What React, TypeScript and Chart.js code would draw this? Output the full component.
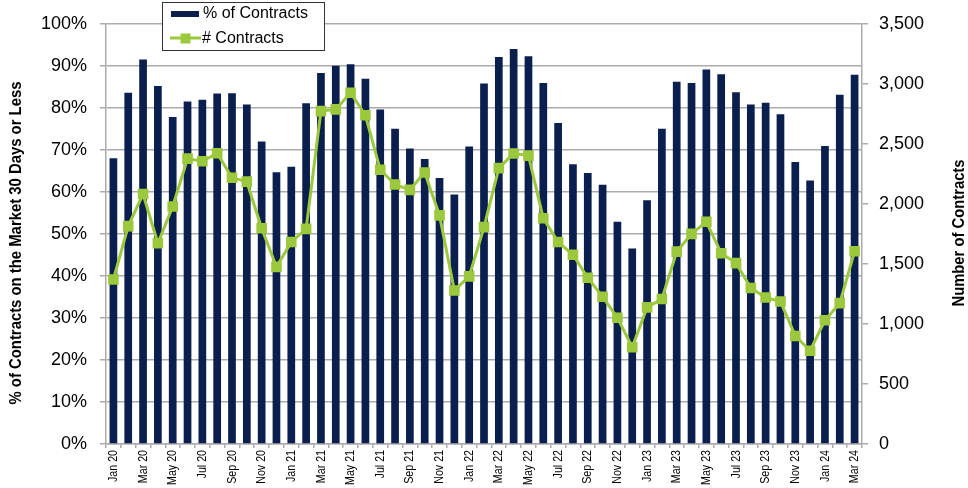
import React, { useEffect, useRef } from 'react';
import { Chart, registerables } from 'chart.js';

Chart.register(...registerables);

const months = [
  'Jan 20', 'Feb 20', 'Mar 20', 'Apr 20', 'May 20', 'Jun 20', 'Jul 20', 'Aug 20', 'Sep 20', 'Oct 20', 'Nov 20', 'Dec 20',
  'Jan 21', 'Feb 21', 'Mar 21', 'Apr 21', 'May 21', 'Jun 21', 'Jul 21', 'Aug 21', 'Sep 21', 'Oct 21', 'Nov 21', 'Dec 21',
  'Jan 22', 'Feb 22', 'Mar 22', 'Apr 22', 'May 22', 'Jun 22', 'Jul 22', 'Aug 22', 'Sep 22', 'Oct 22', 'Nov 22', 'Dec 22',
  'Jan 23', 'Feb 23', 'Mar 23', 'Apr 23', 'May 23', 'Jun 23', 'Jul 23', 'Aug 23', 'Sep 23', 'Oct 23', 'Nov 23', 'Dec 23',
  'Jan 24', 'Feb 24', 'Mar 24',
];

const pctContracts = [
  68.0, 83.6, 91.5, 85.2, 77.8, 81.5, 81.9, 83.4, 83.5, 80.8, 72.0, 64.7,
  66.0, 81.1, 88.3, 90.0, 90.4, 86.9, 79.6, 75.0, 70.3, 67.8, 63.3, 59.4,
  70.8, 85.8, 92.1, 94.0, 92.3, 85.9, 76.4, 66.6, 64.5, 61.7, 52.9, 46.5,
  58.0, 75.0, 86.2, 85.9, 89.1, 88.0, 83.7, 80.8, 81.2, 78.5, 67.1, 62.7,
  70.9, 83.1, 87.9,
];

const numContracts = [
  1370, 1815, 2082, 1672, 1978, 2377, 2355, 2422, 2218, 2185, 1797, 1475,
  1683, 1792, 2773, 2787, 2926, 2738, 2284, 2161, 2117, 2262, 1904, 1279,
  1396, 1806, 2298, 2420, 2402, 1880, 1683, 1576, 1385, 1226, 1052, 806,
  1138, 1208, 1602, 1750, 1851, 1589, 1507, 1299, 1220, 1187, 900, 777,
  1031, 1173, 1605,
];

const barLabel = '% of Contracts';
const lineLabel = '# Contracts';
const leftTitle = '% of Contracts on the Market 30 Days or Less';
const rightTitle = 'Number of Contracts';

const NAVY = '#0a1f4e';
const GREEN = '#9bc83c';
const GRID = '#ababab';
const SANS = "'Liberation Sans', Arial, sans-serif";

function drawSquashedText(ctx: CanvasRenderingContext2D, text: string, cx: number, cy: number, target: number) {
  ctx.save();
  ctx.translate(cx, cy);
  ctx.rotate(-Math.PI / 2);
  ctx.font = `bold 17px ${SANS}`;
  const w = ctx.measureText(text).width;
  ctx.scale(target / w, 1);
  ctx.fillStyle = '#000';
  ctx.textAlign = 'center';
  ctx.textBaseline = 'middle';
  ctx.fillText(text, 0, 0);
  ctx.restore();
}

const overlayPlugin = {
  id: 'overlay',
  afterDraw(chart: any) {
    const ctx: CanvasRenderingContext2D = chart.ctx;
    // axis titles
    drawSquashedText(ctx, leftTitle, 16, 243, 323);
    drawSquashedText(ctx, rightTitle, 959, 233, 147);

    // x tick labels (every other month, rotated, condensed)
    const xs = chart.scales.x;
    ctx.save();
    ctx.fillStyle = '#000';
    ctx.font = `13px ${SANS}`;
    ctx.textAlign = 'right';
    ctx.textBaseline = 'middle';
    months.forEach((m, i) => {
      if (i % 2 !== 0) return;
      const px = xs.getPixelForValue(i);
      ctx.save();
      ctx.translate(px, 450);
      ctx.rotate(-Math.PI / 2);
      ctx.scale(0.82, 1);
      ctx.fillText(m, 0, 0);
      ctx.restore();
    });
    ctx.restore();

    // legend
    ctx.save();
    ctx.fillStyle = '#ffffff';
    ctx.fillRect(162.5, 2.5, 162, 48);
    ctx.strokeStyle = '#333333';
    ctx.lineWidth = 1;
    ctx.strokeRect(162.5, 2.5, 162, 48);

    ctx.fillStyle = NAVY;
    ctx.fillRect(171, 11, 28, 6);

    ctx.strokeStyle = GREEN;
    ctx.lineWidth = 3;
    ctx.beginPath();
    ctx.moveTo(170, 38);
    ctx.lineTo(201, 38);
    ctx.stroke();
    ctx.fillStyle = GREEN;
    ctx.fillRect(180.5, 33.5, 10, 10);

    ctx.fillStyle = '#000';
    ctx.font = `16px ${SANS}`;
    ctx.textAlign = 'left';
    ctx.textBaseline = 'middle';
    ctx.fillText(barLabel, 203, 13.5);
    ctx.fillText(lineLabel, 202, 38.5);
    ctx.restore();
  },
};

export default function App() {
  const canvasRef = useRef<HTMLCanvasElement | null>(null);

  useEffect(() => {
    if (!canvasRef.current) return;
    const chart = new Chart(canvasRef.current, {
      data: {
        labels: months,
        datasets: [
          {
            type: 'line',
            label: lineLabel,
            data: numContracts,
            yAxisID: 'y1',
            borderColor: GREEN,
            backgroundColor: GREEN,
            borderWidth: 3,
            pointStyle: 'rect',
            pointRadius: 7.5,
            pointBorderWidth: 0,
            pointBackgroundColor: GREEN,
            tension: 0,
            order: 0,
          } as any,
          {
            type: 'bar',
            label: barLabel,
            data: pctContracts,
            yAxisID: 'y',
            backgroundColor: NAVY,
            barPercentage: 0.52,
            categoryPercentage: 1,
            order: 1,
          } as any,
        ],
      },
      options: {
        animation: false,
        responsive: false,
        devicePixelRatio: 1,
        layout: { padding: { top: 17, left: 0, right: 0, bottom: 0 } },
        plugins: {
          legend: { display: false },
          tooltip: { enabled: false },
        },
        scales: {
          x: {
            type: 'category',
            offset: true,
            grid: {
              display: true,
              drawOnChartArea: false,
              offset: true,
              tickLength: 4,
              color: GRID,
              lineWidth: 1.5,
            },
            border: { display: true, color: GRID, width: 1.5 },
            ticks: {
              autoSkip: false,
              maxRotation: 0,
              minRotation: 0,
              padding: 0,
              font: { family: SANS, size: 1 },
              callback: () => '',
            },
            afterFit: (s: any) => { s.height = 44; },
          },
          y: {
            position: 'left',
            min: 0,
            max: 100,
            ticks: {
              stepSize: 10,
              padding: 13,
              color: '#000',
              font: { family: SANS, size: 18 },
              callback: (v: any) => `${v}%`,
            },
            grid: { color: GRID, lineWidth: 1.5, tickLength: 6, drawTicks: true },
            border: { display: true, color: GRID, width: 1.5 },
            afterFit: (s: any) => { s.width = 106; },
          },
          y1: {
            position: 'right',
            min: 0,
            max: 3500,
            ticks: {
              stepSize: 500,
              padding: 11,
              color: '#000',
              font: { family: SANS, size: 18 },
              callback: (v: any) => Number(v).toLocaleString('en-US'),
            },
            grid: { drawOnChartArea: false, color: GRID, lineWidth: 1.5, tickLength: 6, drawTicks: true },
            border: { display: true, color: GRID, width: 1.5 },
            afterFit: (s: any) => { s.width = 106; },
          },
        },
      } as any,
      plugins: [overlayPlugin],
    });
    return () => chart.destroy();
  }, []);

  return (
    <div style={{ position: 'fixed', left: 0, top: 0, width: 968, height: 488, background: '#fff' }}>
      <canvas ref={canvasRef} width={968} height={488} style={{ width: 968, height: 488, display: 'block' }} />
    </div>
  );
}
